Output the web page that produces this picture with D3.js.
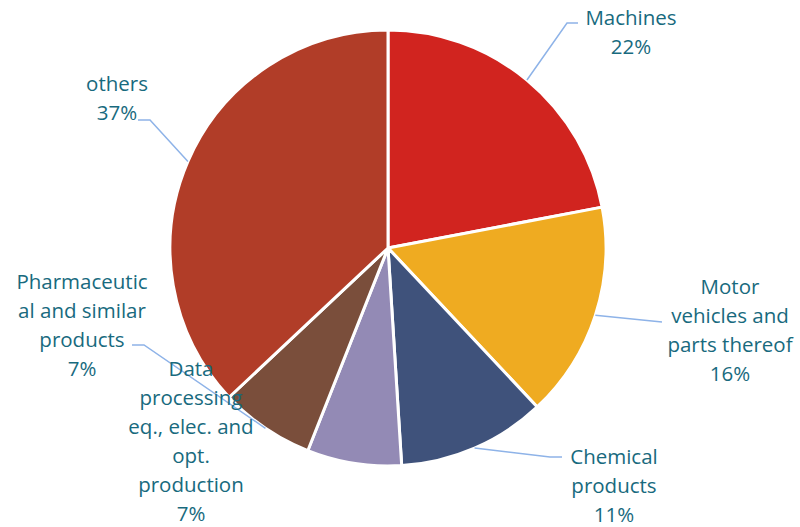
<!DOCTYPE html>
<html>
<head>
<meta charset="utf-8">
<script src="https://cdn.jsdelivr.net/npm/d3@7"></script>
<style>
  html, body { margin: 0; padding: 0; background: #ffffff; }
  svg { display: block; }
  text { font-family: "Open Sans", "Noto Sans", sans-serif; }
</style>
</head>
<body>
<svg id="chart" width="800" height="527"></svg>
<script>
// Export structure by product group (share, %)
const categories = [
  "Machines",
  "Motor vehicles and parts thereof",
  "Chemical products",
  "Data processing eq., elec. and opt. production",
  "Pharmaceutical and similar products",
  "others"
];
const shares = [22, 16, 11, 7, 7, 37];
const colors = ["#D1241F", "#EFAB21", "#3F527B", "#938AB5", "#7A4E3B", "#B13D28"];

// Label text wrapped as in the chart, one entry per line
const labelLines = [
  ["Machines"],
  ["Motor", "vehicles and", "parts thereof"],
  ["Chemical", "products"],
  ["Data", "processing", "eq., elec. and", "opt.", "production"],
  ["Pharmaceutic", "al and similar", "products"],
  ["others"]
];
// Label placement: centre x and first-line y
const labelPos = [
  [631, 17], [730, 286], [614, 456], [191, 368], [82, 281], [117, 83]
];
// Leader line bend point and end point (null = no leader line)
const leaderPts = [
  [[567, 23], [578, 23]],
  [[652, 321], [662, 322]],
  [[550, 457], [562, 457]],
  null,
  [[144, 345], [132, 345]],
  [[150, 120], [138, 120]]
];

const cx = 388, cy = 248, radius = 218;
const lineH = 29;

const data = categories.map((c, i) => ({ name: c, value: shares[i], i }));

const svg = d3.select("#chart");
const g = svg.append("g").attr("transform", `translate(${cx},${cy})`);

const pie = d3.pie().value(d => d.value).sort(null);
const arc = d3.arc().innerRadius(0).outerRadius(radius);
const arcs = pie(data);

g.selectAll("path.slice")
  .data(arcs)
  .join("path")
  .attr("class", "slice")
  .attr("d", arc)
  .attr("fill", d => colors[d.data.i])
  .attr("stroke", "#ffffff")
  .attr("stroke-width", 3)
  .attr("stroke-linejoin", "round");

// Leader lines from the slice edge at its mid angle
arcs.forEach(a => {
  const pts = leaderPts[a.data.i];
  if (!pts) return;
  const mid = (a.startAngle + a.endAngle) / 2;
  const start = [cx + radius * Math.sin(mid), cy - radius * Math.cos(mid)];
  svg.append("path")
    .attr("d", d3.line()([start, ...pts]))
    .attr("fill", "none")
    .attr("stroke", "#8EB3E8")
    .attr("stroke-width", 1.5);
});

// Labels: category lines plus percentage
arcs.forEach(a => {
  const i = a.data.i;
  const lines = labelLines[i].concat([d3.format(".0f")(a.data.value) + "%"]);
  const t = svg.append("text")
    .attr("text-anchor", "middle")
    .attr("dominant-baseline", "central")
    .attr("font-size", 20.5)
    .attr("fill", "#186A7E");
  lines.forEach((ln, k) => {
    t.append("tspan")
      .attr("x", labelPos[i][0])
      .attr("y", labelPos[i][1] + k * lineH)
      .text(ln);
  });
});
</script>
</body>
</html>
